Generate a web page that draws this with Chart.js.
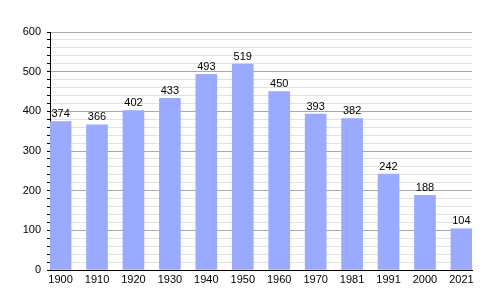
<!DOCTYPE html>
<html>
<head>
<meta charset="utf-8">
<script src="https://cdn.jsdelivr.net/npm/chart.js@4"></script>
<style>
  html, body { margin: 0; padding: 0; background: #fff; }
  #wrap { width: 500px; height: 300px; }
</style>
</head>
<body>
<div id="wrap"><canvas id="chartPop" width="500" height="300"></canvas></div>
<script>
// data
const years = ['1900', '1910', '1920', '1930', '1940', '1950', '1960', '1970', '1981', '1991', '2000', '2021'];
const population = [374, 366, 402, 433, 493, 519, 450, 393, 382, 242, 188, 104];
const yTicks = [0, 100, 200, 300, 400, 500, 600];

const FONT = 'Liberation Sans, Arial, sans-serif';

// number above every bar
const valueLabels = {
  id: 'valueLabels',
  afterDatasetsDraw(chart) {
    const ctx = chart.ctx;
    const meta = chart.getDatasetMeta(0);
    ctx.save();
    ctx.font = '11px ' + FONT;
    ctx.fillStyle = '#000';
    ctx.textAlign = 'center';
    ctx.textBaseline = 'bottom';
    meta.data.forEach((bar, i) => {
      ctx.fillText(String(population[i]), bar.x, bar.y - 2);
    });
    ctx.restore();
  }
};

new Chart(document.getElementById('chartPop'), {
  type: 'bar',
  data: {
    datasets: [{
      data: population.map((v, i) => ({ x: i, y: v })),
      backgroundColor: '#99aaff',
      borderWidth: 0,
      barThickness: 21
    }]
  },
  options: {
    responsive: false,
    animation: false,
    layout: { padding: { top: 32, right: 28, left: 0, bottom: 0 } },
    plugins: { legend: { display: false }, tooltip: { enabled: false } },
    scales: {
      x: {
        type: 'linear',
        offset: false,
        min: -0.29,
        max: 11.29,
        afterBuildTicks: scale => { scale.ticks = years.map((y, i) => ({ value: i })); },
        afterFit: scale => { scale.height = 30; },
        ticks: {
          callback: v => years[v] ?? '',
          color: '#000',
          font: { family: FONT, size: 11 },
          padding: 3,
          maxRotation: 0,
          autoSkip: false
        },
        grid: { display: false, drawTicks: false },
        border: { display: true, color: '#000', width: 1 }
      },
      y: {
        min: 0,
        max: 600,
        afterBuildTicks: scale => {
          const t = [];
          for (let v = 0; v <= 600; v += 20) t.push({ value: v });
          scale.ticks = t;
        },
        afterFit: scale => { scale.width = 50; },
        ticks: {
          callback: v => (yTicks.includes(v) ? String(v) : ''),
          color: '#000',
          font: { family: FONT, size: 11 },
          padding: 6,
          autoSkip: false
        },
        grid: {
          color: c => (c.tick && c.tick.value % 100 === 0 ? '#aaaaaa' : '#e2e2e2'),
          tickColor: '#000',
          tickLength: 3,
          lineWidth: 1
        },
        border: { display: true, color: '#000', width: 1 }
      }
    }
  },
  plugins: [valueLabels]
});
</script>
</body>
</html>
